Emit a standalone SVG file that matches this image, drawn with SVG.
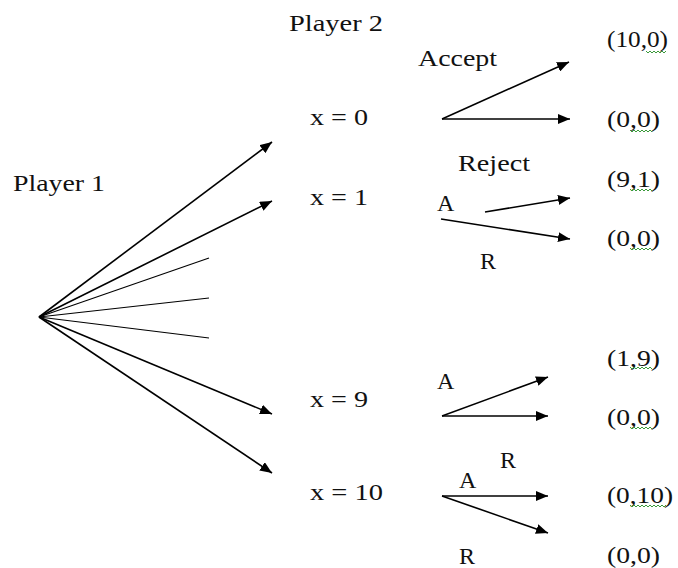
<svg xmlns="http://www.w3.org/2000/svg" width="678" height="568" viewBox="0 0 678 568">
<defs>
<marker id="ah" viewBox="0 0 12 10" refX="12" refY="5" markerWidth="12" markerHeight="10" markerUnits="userSpaceOnUse" orient="auto">
<path d="M0,0 L12,5 L0,10 Z" fill="#000"/>
</marker>
<style>
text{font-family:"Liberation Serif","Times New Roman",serif;font-size:24px;fill:#111}
.e{stroke:#000;stroke-width:1.6;fill:none}
.a{marker-end:url(#ah)}
.t{stroke:#000;stroke-width:1.1;fill:none}
.sq{stroke:#3a9a3a;stroke-width:1;fill:none}
</style>
</defs>
<rect width="678" height="568" fill="#fff"/>
<g id="connectors">
<line class="e a" x1="39" y1="317" x2="272" y2="142"/>
<line class="e a" x1="39" y1="317" x2="272" y2="201"/>
<line class="t" x1="39" y1="317" x2="209" y2="258"/>
<line class="t" x1="39" y1="317" x2="209" y2="298"/>
<line class="t" x1="39" y1="317" x2="209" y2="338"/>
<line class="e a" x1="39" y1="317" x2="272" y2="414"/>
<line class="e a" x1="39" y1="317" x2="272" y2="473"/>
<line class="e a" x1="442" y1="119" x2="569" y2="62"/>
<line class="e a" x1="442" y1="119" x2="570" y2="119"/>
<line class="e a" x1="485" y1="212" x2="570" y2="198"/>
<line class="e a" x1="441" y1="219" x2="570" y2="239"/>
<line class="e a" x1="442" y1="416" x2="548" y2="377"/>
<line class="e a" x1="442" y1="416" x2="548" y2="416"/>
<line class="e a" x1="442" y1="496" x2="548" y2="496"/>
<line class="e a" x1="442" y1="496" x2="548" y2="533"/>
</g>
<g id="player1"><text x="13" y="191" textLength="92" lengthAdjust="spacingAndGlyphs">Player 1</text></g>
<g id="player2"><text x="289" y="31" textLength="94" lengthAdjust="spacingAndGlyphs">Player 2</text></g>
<g id="x0"><text x="310" y="125" textLength="58" lengthAdjust="spacingAndGlyphs">x = 0</text></g>
<g id="x1"><text x="310" y="205" textLength="58" lengthAdjust="spacingAndGlyphs">x = 1</text></g>
<g id="x9"><text x="310" y="407" textLength="58" lengthAdjust="spacingAndGlyphs">x = 9</text></g>
<g id="x10"><text x="310" y="500" textLength="73" lengthAdjust="spacingAndGlyphs">x = 10</text></g>
<g id="labels">
<text x="418" y="66" textLength="79" lengthAdjust="spacingAndGlyphs">Accept</text>
<text x="458" y="171" textLength="72" lengthAdjust="spacingAndGlyphs">Reject</text>
<text x="437" y="211">A</text>
<text x="480" y="269">R</text>
<text x="437" y="389">A</text>
<text x="500" y="468">R</text>
<text x="459" y="488">A</text>
<text x="459" y="564">R</text>
</g>
<g id="payoffs">
<text x="607" y="47" textLength="61" lengthAdjust="spacingAndGlyphs">(10,0)</text>
<text x="607" y="127" textLength="53" lengthAdjust="spacingAndGlyphs">(0,0)</text>
<text x="607" y="187" textLength="53" lengthAdjust="spacingAndGlyphs">(9,1)</text>
<text x="607" y="246" textLength="53" lengthAdjust="spacingAndGlyphs">(0,0)</text>
<text x="607" y="366" textLength="53" lengthAdjust="spacingAndGlyphs">(1,9)</text>
<text x="607" y="425" textLength="53" lengthAdjust="spacingAndGlyphs">(0,0)</text>
<text x="607" y="503" textLength="66" lengthAdjust="spacingAndGlyphs">(0,10)</text>
<text x="607" y="563" textLength="53" lengthAdjust="spacingAndGlyphs">(0,0)</text>
</g>
<g id="squiggles">
<path class="sq" d="M646,51 l2,2 l2,-2 l2,2 l2,-2 l2,2 l2,-2 l2,2 l2,-2 l2,2 l2,-2"/>
<path class="sq" d="M630,130 l2,2 l2,-2 l2,2 l2,-2 l2,2 l2,-2 l2,2 l2,-2 l2,2 l2,-2 l2,2"/>
<path class="sq" d="M630,189 l2,2 l2,-2 l2,2 l2,-2 l2,2 l2,-2 l2,2 l2,-2 l2,2 l2,-2 l2,2"/>
<path class="sq" d="M630,248 l2,2 l2,-2 l2,2 l2,-2 l2,2 l2,-2 l2,2 l2,-2 l2,2 l2,-2 l2,2"/>
<path class="sq" d="M630,367 l2,2 l2,-2 l2,2 l2,-2 l2,2 l2,-2 l2,2 l2,-2 l2,2 l2,-2 l2,2"/>
<path class="sq" d="M630,427 l2,2 l2,-2 l2,2 l2,-2 l2,2 l2,-2 l2,2 l2,-2 l2,2 l2,-2 l2,2"/>
<path class="sq" d="M630,505 l2,2 l2,-2 l2,2 l2,-2 l2,2 l2,-2 l2,2 l2,-2 l2,2 l2,-2 l2,2 l2,-2 l2,2 l2,-2 l2,2 l2,-2 l2,2 l2,-2"/>
</g>
</svg>
